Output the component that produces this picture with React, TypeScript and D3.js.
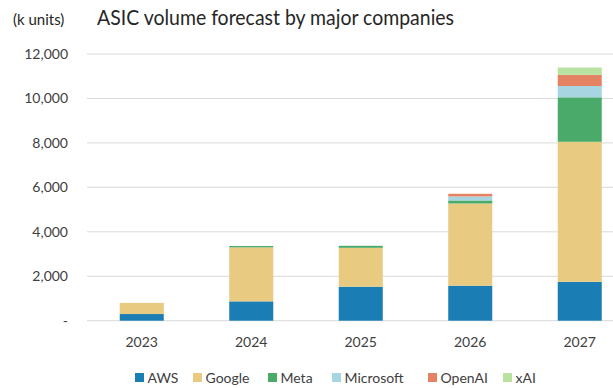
import React from "react";
import * as d3 from "d3";

const years = ["2023", "2024", "2025", "2026", "2027"];
const companies = ["AWS", "Google", "Meta", "Microsoft", "OpenAI", "xAI"];
const aws = [300, 870, 1530, 1575, 1750];
const google = [500, 2430, 1750, 3700, 6300];
const meta = [0, 60, 90, 135, 2000];
const microsoft = [0, 0, 0, 180, 510];
const openai = [0, 0, 0, 120, 500];
const xai = [0, 0, 0, 0, 330];
const colors = ["#1a7db3", "#e8ca80", "#4aaa6a", "#a8d5e2", "#e58263", "#b9e2a0"];
const yTicks = [0, 2000, 4000, 6000, 8000, 10000, 12000];

const W = 613;
const H = 388;
const FONT = "Lato, 'Open Sans', sans-serif";

export default function App() {
  const seriesValues = [aws, google, meta, microsoft, openai, xai];
  const rows = years.map((y, i) => {
    const r: any = { year: y };
    companies.forEach((c, j) => (r[c] = seriesValues[j][i]));
    return r;
  });
  const stacked = d3.stack<any>().keys(companies)(rows);

  const x = d3.scaleBand().domain(years).range([87, 634.5]).paddingInner(0.598).paddingOuter(0.299);
  const y = d3.scaleLinear().domain([0, 12000]).range([320.7, 54]);
  const fmt = d3.format(",");

  const legendX = [135, 193, 268, 332, 428, 503];

  return (
    <svg width={W} height={H} style={{ position: "absolute", left: 0, top: 0, background: "#fff" }}>
      <rect x={0} y={0} width={W} height={H} fill="#fff" />
      <text x={13} y={25} fontFamily={FONT} fontSize={15} fill="#262626">(k units)</text>
      <text x={97} y={25} fontFamily={FONT} fontSize={21} fill="#262626" textLength={357} lengthAdjust="spacingAndGlyphs">
        ASIC volume forecast by major companies
      </text>
      {yTicks.map((t) => (
        <g key={t}>
          <line x1={87} x2={W} y1={y(t)} y2={y(t)} stroke="#d9d9d9" strokeWidth={1} />
          <text x={68} y={y(t)} dy="0.35em" textAnchor="end" fontFamily={FONT} fontSize={14} fill="#404040">
            {t === 0 ? "-" : fmt(t)}
          </text>
        </g>
      ))}
      {stacked.map((s, si) => (
        <g key={s.key} fill={colors[si]}>
          {s.map((d, i) =>
            d[1] - d[0] > 0 ? (
              <rect
                key={i}
                x={x(years[i])}
                y={y(d[1])}
                width={x.bandwidth()}
                height={y(d[0]) - y(d[1])}
              />
            ) : null
          )}
        </g>
      ))}
      {years.map((yr) => (
        <text
          key={yr}
          x={(x(yr) as number) + x.bandwidth() / 2}
          y={346.7}
          textAnchor="middle"
          fontFamily={FONT}
          fontSize={14}
          fill="#404040"
        >
          {yr}
        </text>
      ))}
      {companies.map((c, i) => (
        <g key={c}>
          <rect x={legendX[i]} y={373} width={9} height={9} fill={colors[i]} />
          <text x={legendX[i] + 12.5} y={382.5} fontFamily={FONT} fontSize={14} fill="#404040">
            {c}
          </text>
        </g>
      ))}
    </svg>
  );
}
